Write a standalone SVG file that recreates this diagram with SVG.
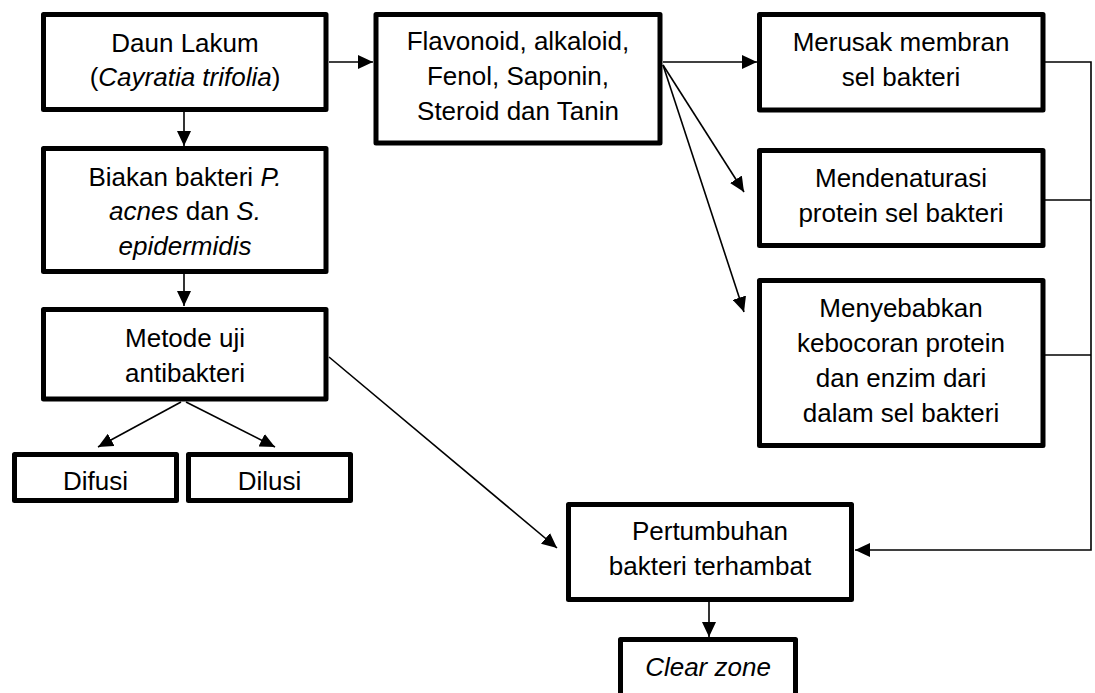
<svg xmlns="http://www.w3.org/2000/svg" width="1095" height="693" viewBox="0 0 1095 693">
<style>
.box{fill:#fff;stroke:#000;stroke-width:5;stroke-linejoin:round}
.t{font-family:"Liberation Sans",Arial,sans-serif;font-size:26px;fill:#000;text-anchor:middle}
.i{font-style:italic}
.c{fill:none;stroke:#000;stroke-width:1.6}
</style>
<defs>
<marker id="ah" viewBox="0 0 15 14" refX="15" refY="7" markerWidth="15" markerHeight="14" markerUnits="userSpaceOnUse" orient="auto">
<path d="M0,0 L15,7 L0,14 z" fill="#000"/>
</marker>
</defs>
<rect width="1095" height="693" fill="#fff"/>
<g id="connectors">
<line class="c" x1="329" y1="62" x2="373" y2="62" marker-end="url(#ah)"/>
<line class="c" x1="184" y1="112" x2="184" y2="146" marker-end="url(#ah)"/>
<line class="c" x1="184" y1="274" x2="184" y2="306" marker-end="url(#ah)"/>
<line class="c" x1="181" y1="402" x2="98" y2="447" marker-end="url(#ah)"/>
<line class="c" x1="186" y1="402" x2="275" y2="447" marker-end="url(#ah)"/>
<line class="c" x1="329" y1="357" x2="557" y2="548" marker-end="url(#ah)"/>
<line class="c" x1="663" y1="62" x2="757" y2="62" marker-end="url(#ah)"/>
<line class="c" x1="663" y1="65" x2="744" y2="192" marker-end="url(#ah)"/>
<line class="c" x1="663" y1="65" x2="744" y2="312" marker-end="url(#ah)"/>
<polyline class="c" points="1045,62 1091,62 1091,550 855,550" marker-end="url(#ah)"/>
<line class="c" x1="1045" y1="200" x2="1091" y2="200"/>
<line class="c" x1="1045" y1="355" x2="1091" y2="355"/>
<line class="c" x1="709" y1="601" x2="709" y2="637" marker-end="url(#ah)"/>
</g>
<g id="daun">
<rect class="box" x="43.5" y="14.5" width="282.5" height="95"/>
<text class="t" x="185" y="52">Daun Lakum</text>
<text class="t" x="185" y="86">(<tspan class="i">Cayratia trifolia</tspan>)</text>
</g>
<g id="biakan">
<rect class="box" x="43.5" y="148.5" width="282.5" height="123"/>
<text class="t" x="185" y="186">Biakan bakteri <tspan class="i">P.</tspan></text>
<text class="t" x="185" y="220"><tspan class="i">acnes</tspan> dan <tspan class="i">S.</tspan></text>
<text class="t" x="185" y="255" font-style="italic">epidermidis</text>
</g>
<g id="metode">
<rect class="box" x="43.5" y="309.5" width="282.5" height="89.5"/>
<text class="t" x="185" y="347">Metode uji</text>
<text class="t" x="185" y="382">antibakteri</text>
</g>
<g id="difusi">
<rect class="box" x="14.5" y="454.5" width="162" height="46"/>
<text class="t" x="95.5" y="490">Difusi</text>
</g>
<g id="dilusi">
<rect class="box" x="188.5" y="454.5" width="162" height="46"/>
<text class="t" x="269.5" y="490">Dilusi</text>
</g>
<g id="flavonoid">
<rect class="box" x="376" y="14.5" width="284" height="128.5"/>
<text class="t" x="518" y="50">Flavonoid, alkaloid,</text>
<text class="t" x="518" y="85">Fenol, Saponin,</text>
<text class="t" x="518" y="120">Steroid dan Tanin</text>
</g>
<g id="merusak">
<rect class="box" x="759.5" y="14.5" width="283.5" height="95.5"/>
<text class="t" x="901" y="51">Merusak membran</text>
<text class="t" x="901" y="86">sel bakteri</text>
</g>
<g id="mendenaturasi">
<rect class="box" x="759.5" y="150.5" width="283.5" height="95"/>
<text class="t" x="901" y="187">Mendenaturasi</text>
<text class="t" x="901" y="222">protein sel bakteri</text>
</g>
<g id="menyebabkan">
<rect class="box" x="759.5" y="280.5" width="283.5" height="165"/>
<text class="t" x="901" y="317">Menyebabkan</text>
<text class="t" x="901" y="352">kebocoran protein</text>
<text class="t" x="901" y="387">dan enzim dari</text>
<text class="t" x="901" y="422">dalam sel bakteri</text>
</g>
<g id="pertumbuhan">
<rect class="box" x="568.5" y="504.5" width="283" height="95"/>
<text class="t" x="710" y="540">Pertumbuhan</text>
<text class="t" x="710" y="575">bakteri terhambat</text>
</g>
<g id="clearzone">
<rect class="box" x="620.5" y="639.5" width="175" height="70"/>
<text class="t i" x="708" y="676">Clear zone</text>
</g>
</svg>
